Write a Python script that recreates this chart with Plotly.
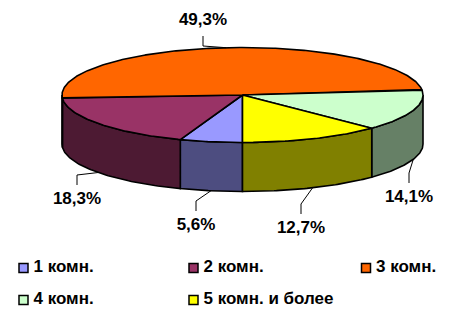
import numpy as np
import plotly.graph_objects as go

# ---- data ----
categories = ["1 комн.", "2 комн.", "3 комн.", "4 комн.", "5 комн. и более"]
shares = [5.6, 18.3, 49.3, 14.1, 12.7]
label_texts = ["5,6%", "18,3%", "49,3%", "14,1%", "12,7%"]

# ---- styles ----
top_colors = ["#9999FF", "#993366", "#FF6600", "#CCFFCC", "#FFFF00"]
side_colors = ["#4D4D80", "#4D1A33", "#803300", "#668066", "#808000"]

W, H = 450, 309          # window size
PAGE_MARGIN = 8          # default <body> margin of the html page
CX, CY, RX, RY, DEPTH = 242.5, 95.0, 180.5, 47.5, 49.0
FONT = dict(family="Liberation Sans, Arial, sans-serif", size=17, color="black")

# label layout (centre of each percentage label), window pixels
label_xy = [(196, 226), (77, 200), (203, 21), (409, 198), (301, 229)]
# legend layout
legend_cols = [23.5, 193.5, 366.0]
legend_rows = [268.0, 300.0]


def ell(theta_deg, dy=0.0):
    t = np.radians(theta_deg)
    return CX - RX * np.sin(t), CY + RY * np.cos(t) + dy


total = sum(shares)
bounds = np.concatenate([[0.0], np.cumsum(shares) / total * 360.0])

fig = go.Figure()
LW = 1.6

# side rims (front half only: 0..90 and 270..360 measured clockwise from bottom)
for i in range(len(shares)):
    a0, a1 = bounds[i], bounds[i + 1]
    for lo, hi in [(0.0, 90.0), (270.0, 360.0)]:
        s, e = max(a0, lo), min(a1, hi)
        if e - s <= 0.01:
            continue
        th = np.linspace(s, e, 60)
        xt, yt = ell(th)
        xb, yb = ell(th[::-1], DEPTH)
        xs = np.concatenate([xt, xb, xt[:1]])
        ys = np.concatenate([yt, yb, yt[:1]])
        fig.add_trace(go.Scatter(x=xs, y=ys, mode="lines", fill="toself",
                                 fillcolor=side_colors[i],
                                 line=dict(color="black", width=LW),
                                 hoverinfo="skip", showlegend=False))

# top faces
for i in range(len(shares)):
    a0, a1 = bounds[i], bounds[i + 1]
    th = np.linspace(a0, a1, max(int((a1 - a0) * 1.5), 4))
    xa, ya = ell(th)
    xs = np.concatenate([[CX], xa, [CX]])
    ys = np.concatenate([[CY], ya, [CY]])
    fig.add_trace(go.Scatter(x=xs, y=ys, mode="lines", fill="toself",
                             fillcolor=top_colors[i],
                             line=dict(color="black", width=LW),
                             hoverinfo="skip", showlegend=False,
                             name=categories[i]))

# labels with leader lines
for i in range(len(shares)):
    mid = (bounds[i] + bounds[i + 1]) / 2.0
    lx, ly = label_xy[i]
    if ly < CY:  # label above the pie
        ax, ay = ell(mid)
        end_y, elbow_y = ly + 15, ly + 25
    else:
        ax, ay = ell(mid, DEPTH)
        end_y, elbow_y = ly - 15, ly - 25
    fig.add_trace(go.Scatter(x=[ax, lx, lx], y=[ay, elbow_y, end_y], mode="lines",
                             line=dict(color="black", width=1),
                             hoverinfo="skip", showlegend=False))

fig.add_trace(go.Scatter(
    x=[p[0] for p in label_xy], y=[p[1] for p in label_xy], mode="text",
    text=["<b>%s</b>" % t for t in label_texts], textposition="middle center",
    textfont=FONT, hoverinfo="skip", showlegend=False))

# legend
for i, cat in enumerate(categories):
    r, c = divmod(i, 3)
    x0, y0 = legend_cols[c], legend_rows[r]
    fig.add_trace(go.Scatter(x=[x0], y=[y0], mode="markers",
                             marker=dict(symbol="square", size=9, color=top_colors[i],
                                         line=dict(color="black", width=1.5)),
                             hoverinfo="skip", showlegend=False))
    fig.add_trace(go.Scatter(x=[x0 + 10], y=[y0], mode="text",
                             text=["<b>%s</b>" % cat], textposition="middle right",
                             textfont=FONT, hoverinfo="skip", showlegend=False))

# the page has an 8px body margin: size the figure so that it ends at the
# window edge, and map the axes so that data units equal window pixels
fig.update_layout(
    width=W - PAGE_MARGIN, height=H - PAGE_MARGIN,
    margin=dict(l=0, r=0, t=0, b=0),
    paper_bgcolor="white", plot_bgcolor="white",
    xaxis=dict(range=[PAGE_MARGIN, W], visible=False, fixedrange=True),
    yaxis=dict(range=[H, PAGE_MARGIN], visible=False, fixedrange=True),
    showlegend=False,
)

fig.write_html("out.html")
